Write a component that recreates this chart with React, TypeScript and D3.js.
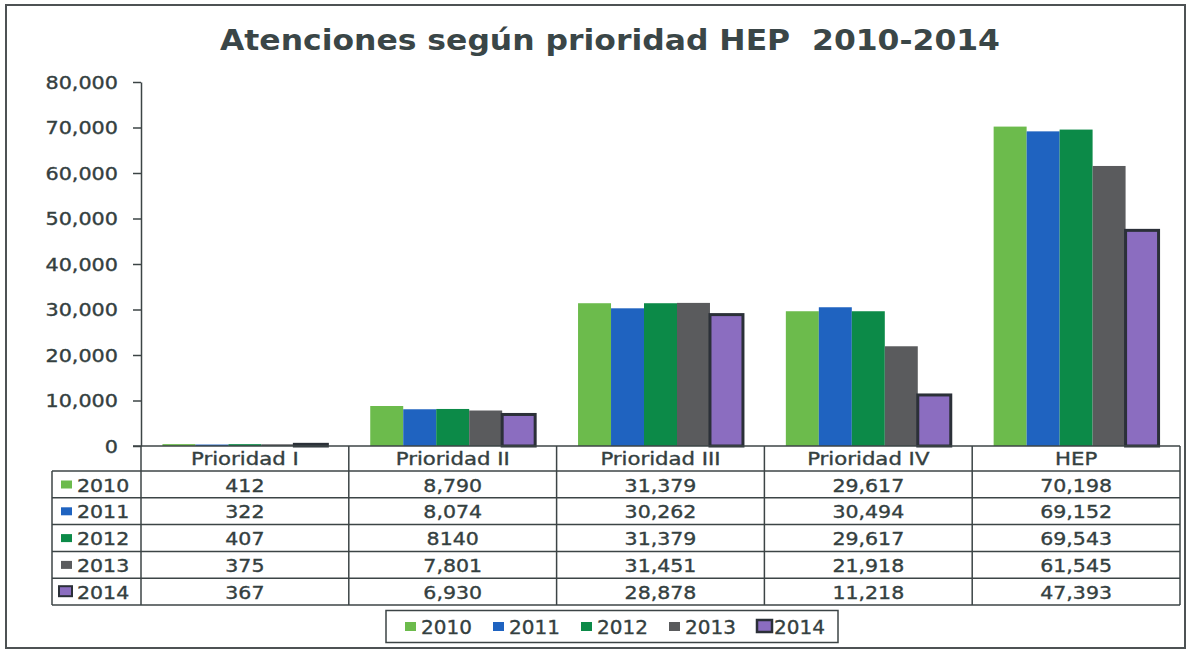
import React, { useRef, useEffect } from 'react';
import { select, scaleLinear, scaleBand, axisLeft, format } from 'd3';

// data
const categories = ["Prioridad I", "Prioridad II", "Prioridad III", "Prioridad IV", "HEP"];
const years = ["2010", "2011", "2012", "2013", "2014"];
const colors = ["#6cbb4c", "#1f63c0", "#0c8a48", "#5a5b5d", "#8b6dc0"];
const labels2010 = ["412", "8,790", "31,379", "29,617", "70,198"];
const labels2011 = ["322", "8,074", "30,262", "30,494", "69,152"];
const labels2012 = ["407", "8140", "31,379", "29,617", "69,543"];
const labels2013 = ["375", "7,801", "31,451", "21,918", "61,545"];
const labels2014 = ["367", "6,930", "28,878", "11,218", "47,393"];
const yTicks = [0, 10000, 20000, 30000, 40000, 50000, 60000, 70000, 80000];

const tableLabels = [labels2010, labels2011, labels2012, labels2013, labels2014];
const toNum = (s: string) => +s.replace(/,/g, "");

const textColor = "#34403f";
const lineColor = "#3c4446";
const font = "'DejaVu Sans', sans-serif";

function App() {
    const ref = useRef<SVGSVGElement>(null);

    useEffect(() => {
        const svg = select(ref.current);
        svg.selectAll("*").remove();

        const left = 141;
        const right = 1180;
        const top = 82;
        const base = 446;
        const headerH = 25;
        const rowH = 26.8;
        const legendColX = 52;

        const y = scaleLinear().domain([0, 80000]).range([base, top]);
        const x0 = scaleBand().domain(categories).range([left, right]);
        const x1 = scaleBand().domain(years).range([0, x0.bandwidth()]).paddingOuter(0.65);

        const txt = (g: any, x: number, yy: number, s: string, size: number, sx: number, anchor = "middle", weight = "normal") =>
            g.append("text")
                .attr("transform", `translate(${x},${yy}) scale(${sx},1)`)
                .attr("text-anchor", anchor)
                .attr("font-family", font)
                .attr("font-size", size)
                .attr("font-weight", weight)
                .attr("fill", textColor)
                .attr("stroke", weight === "normal" ? textColor : "none")
                .attr("stroke-width", 0.35)
                .style("white-space", "pre")
                .text(s);

        // frame
        svg.append("rect").attr("x", 6).attr("y", 5).attr("width", 1179).attr("height", 643)
            .attr("fill", "#fff").attr("stroke", "#4d5254").attr("stroke-width", 2);

        txt(svg, 610, 50, "Atenciones según prioridad HEP  2010-2014", 28, 1.0, "middle", "bold")
            .attr("fill", "#3a4647")
            .attr("textLength", 780).attr("lengthAdjust", "spacingAndGlyphs");

        // y axis
        const axis = svg.append("g").attr("transform", `translate(${left},0)`)
            .call(axisLeft(y).tickValues(yTicks).tickFormat(format(",")).tickSize(8).tickSizeOuter(0));
        axis.select(".domain").attr("stroke", lineColor).attr("stroke-width", 1.5);
        axis.selectAll(".tick line").attr("stroke", lineColor).attr("stroke-width", 1.5);
        axis.selectAll(".tick text")
            .attr("x", -23 / 1.22).attr("dy", "0.36em")
            .attr("transform", "scale(1.22,1)")
            .attr("font-family", font).attr("font-size", 17).attr("fill", textColor)
            .attr("stroke", textColor).attr("stroke-width", 0.35);

        // bars
        categories.forEach((c, ci) => {
            years.forEach((yr, yi) => {
                const v = toNum(tableLabels[yi][ci]);
                const last = yi === years.length - 1;
                svg.append("rect")
                    .attr("x", (x0(c) as number) + (x1(yr) as number))
                    .attr("y", y(v))
                    .attr("width", x1.bandwidth())
                    .attr("height", base - y(v))
                    .attr("fill", colors[yi])
                    .attr("stroke", last ? "#2b3038" : "none")
                    .attr("stroke-width", last ? 3 : 0);
            });
        });

        // data table
        const tableBottom = base + headerH + rowH * years.length;
        const t = svg.append("g");
        const ln = (xa: number, ya: number, xb: number, yb: number) =>
            t.append("line").attr("x1", xa).attr("y1", ya).attr("x2", xb).attr("y2", yb)
                .attr("stroke", lineColor).attr("stroke-width", 1.5);
        ln(left - 8, base, right, base);
        ln(left, base, left, tableBottom);
        categories.forEach((c) => ln((x0(c) as number) + x0.bandwidth(), base, (x0(c) as number) + x0.bandwidth(), tableBottom));
        ln(legendColX, base + headerH, legendColX, tableBottom);
        years.forEach((yr, i) => ln(legendColX, base + headerH + rowH * i, right, base + headerH + rowH * i));
        ln(legendColX, tableBottom, right, tableBottom);

        categories.forEach((c) => txt(t, (x0(c) as number) + x0.bandwidth() / 2, base + 19, c, 17, 1.25));
        years.forEach((yr, i) => {
            const ry = base + headerH + rowH * i;
            const last = i === years.length - 1;
            t.append("rect")
                .attr("x", last ? 59 : 61).attr("y", ry + (last ? 8 : 9.5))
                .attr("width", last ? 13 : 11).attr("height", last ? 10 : 8)
                .attr("fill", colors[i])
                .attr("stroke", last ? "#2b3038" : "none").attr("stroke-width", last ? 2 : 0);
            txt(t, 77, ry + 20.5, yr, 18, 1.14, "start");
            categories.forEach((c, ci) => txt(t, (x0(c) as number) + x0.bandwidth() / 2, ry + 20.5, tableLabels[i][ci], 18, 1.14));
        });

        // legend
        const lg = svg.append("g");
        lg.append("rect").attr("x", 386).attr("y", 610.5).attr("width", 452).attr("height", 32)
            .attr("fill", "none").attr("stroke", lineColor).attr("stroke-width", 1.5);
        years.forEach((yr, i) => {
            const lx = 405 + i * 88;
            const last = i === years.length - 1;
            lg.append("rect")
                .attr("x", lx).attr("y", last ? 620 : 622)
                .attr("width", last ? 15 : 11).attr("height", last ? 12 : 9)
                .attr("fill", colors[i])
                .attr("stroke", last ? "#2b3038" : "none").attr("stroke-width", last ? 2.5 : 0);
            txt(lg, lx + (last ? 17 : 16), 634, yr, 20, 1.0, "start");
        });
    }, []);

    return (
        <div style={{ position: "absolute", left: 0, top: 0 }}>
            <svg ref={ref} width={1192} height={653} />
        </div>
    );
}

export default App;
